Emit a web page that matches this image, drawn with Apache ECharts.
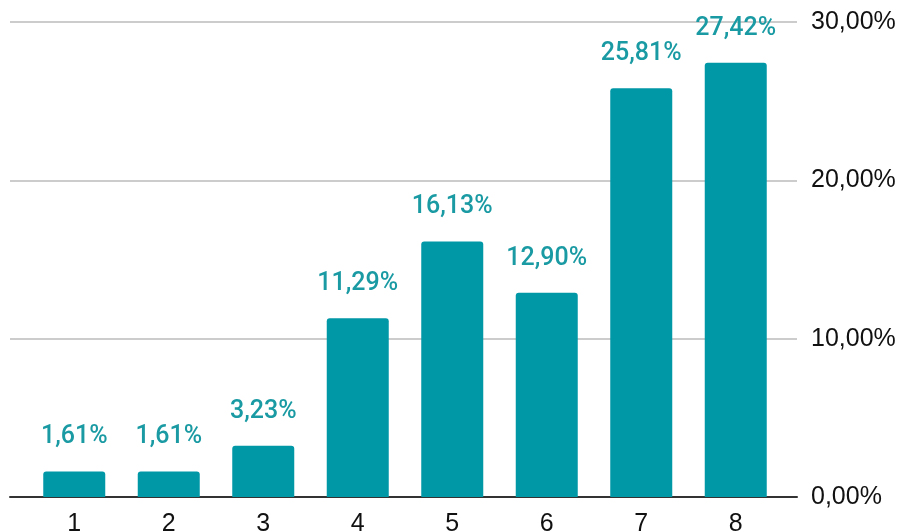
<!DOCTYPE html>
<html>
<head>
<meta charset="utf-8">
<script src="https://cdn.jsdelivr.net/npm/echarts@6/dist/echarts.min.js"></script>
<style>html,body{margin:0;padding:0;background:#fff}#c{width:901px;height:532px}</style>
</head>
<body>
<div id="c"></div>
<script>
const categories = ['1', '2', '3', '4', '5', '6', '7', '8'];
const values = [1.61, 1.61, 3.23, 11.29, 16.13, 12.90, 25.81, 27.42];
const yTicks = [0, 10, 20, 30];

const fmt = v => v.toFixed(2).replace('.', ',') + '%';
const teal = '#0097A7';

const chart = echarts.init(document.getElementById('c'), null, {renderer: 'canvas'});
chart.setOption({
  animation: false,
  grid: [
    {left: 27, right: 118, top: 22, bottom: 35, containLabel: false, outerBoundsMode: 'none'},
    {left: 10, right: 104, top: 22, bottom: 35, containLabel: false, outerBoundsMode: 'none'}
  ],
  xAxis: [
    {
      type: 'category', gridIndex: 0, data: categories,
      axisLine: {show: false}, axisTick: {show: false},
      axisLabel: {fontSize: 25, color: '#111', fontFamily: 'Liberation Sans, Arial', margin: 15}
    },
    {
      type: 'value', gridIndex: 1, min: 0, max: 1,
      axisLine: {show: true, lineStyle: {color: '#333', width: 2}},
      axisTick: {show: false}, axisLabel: {show: false}, splitLine: {show: false}
    }
  ],
  yAxis: [
    {
      type: 'value', gridIndex: 0, min: yTicks[0], max: yTicks[yTicks.length - 1], interval: 10,
      show: false
    },
    {
      type: 'value', gridIndex: 1, position: 'right', min: yTicks[0], max: yTicks[yTicks.length - 1], interval: 10,
      axisLine: {show: false}, axisTick: {show: false},
      axisLabel: {fontSize: 25, color: '#111', fontFamily: 'Liberation Sans, Arial', margin: 14, formatter: v => fmt(v)},
      splitLine: {lineStyle: {color: '#cccccc', width: 2}}
    }
  ],
  series: [{
    type: 'bar', xAxisIndex: 0, yAxisIndex: 0,
    data: values, barWidth: 62,
    itemStyle: {color: teal, borderRadius: [3, 3, 0, 0]},
    label: {
      show: true, position: 'top', distance: 22,
      fontSize: 25, fontWeight: 500, color: '#1a9aa3', fontFamily: 'Roboto',
      formatter: p => fmt(p.value)
    }
  }]
});
</script>
</body>
</html>
